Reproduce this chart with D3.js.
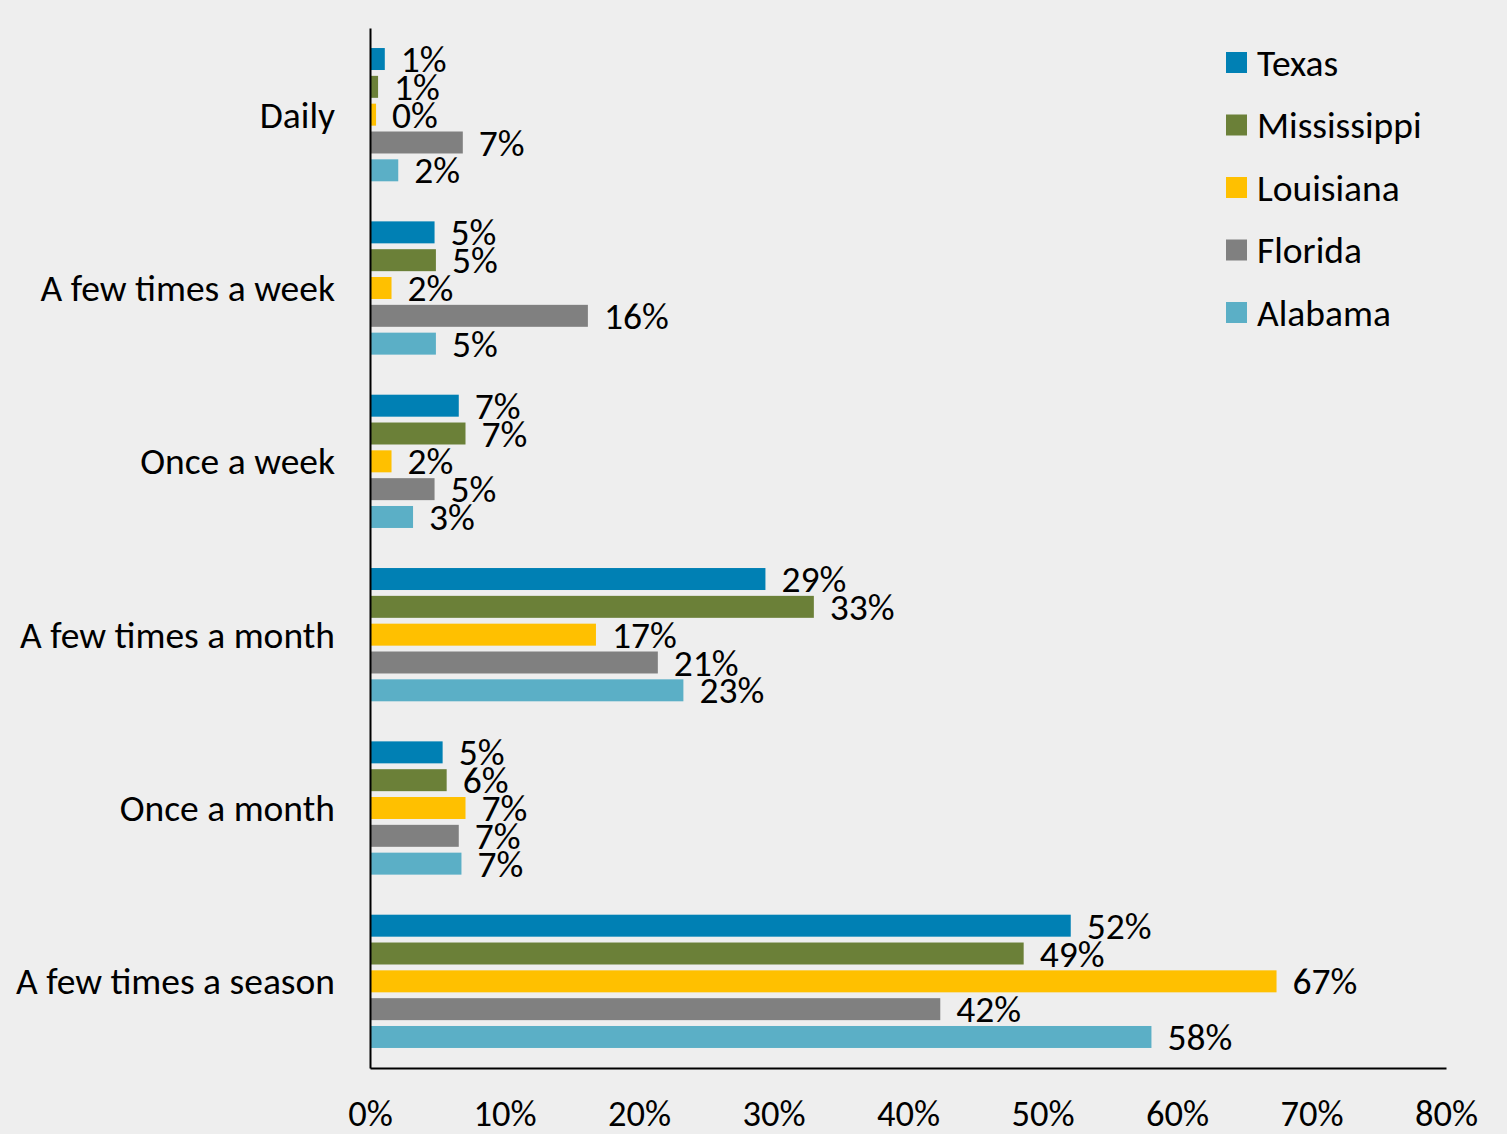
<!DOCTYPE html>
<html><head><meta charset="utf-8">
<script src="https://cdn.jsdelivr.net/npm/d3@7"></script>
<style>
html,body{margin:0;padding:0;background:#eeeeee;}
svg{display:block;}
text{font-family:Carlito,Calibri,Lato,sans-serif;fill:#000;}
</style></head>
<body>
<svg id="c" width="1507" height="1134"></svg>
<script>
const categories = ["Daily","A few times a week","Once a week","A few times a month","Once a month","A few times a season"];
const seriesNames = ["Texas","Mississippi","Louisiana","Florida","Alabama"];
const colors = ["#0080b4","#6b8038","#ffc000","#808080","#5bafc6"];
// values (%) per series, in category order
const texas       = [1.1, 4.8, 6.6, 29.4, 5.4, 52.1];
const mississippi = [0.6, 4.9, 7.1, 33.0, 5.7, 48.6];
const louisiana   = [0.45,1.6, 1.6, 16.8, 7.1, 67.4];
const florida     = [6.9, 16.2,4.8, 21.4, 6.6, 42.4];
const alabama     = [2.1, 4.9, 3.2, 23.3, 6.8, 58.1];
const seriesValues = [texas, mississippi, louisiana, florida, alabama];
const xTicks = [0,10,20,30,40,50,60,70,80];

const FS = 37.5;
const svg = d3.select("#c");
const x = d3.scaleLinear().domain([0,80]).range([370,1446]);
const y = d3.scaleBand().domain(categories).range([28,1068]).padding(0);
const ys = d3.scaleBand().domain(seriesNames).range([0,y.bandwidth()]).paddingInner(0.21).paddingOuter(0.72);

const data = [];
categories.forEach((c,ci)=>seriesNames.forEach((s,si)=>data.push({c,s,si,v:seriesValues[si][ci]})));

const g = svg.append("g");
g.selectAll("rect.bar").data(data).join("rect")
  .attr("class","bar")
  .attr("x",x(0))
  .attr("y",d=>y(d.c)+ys(d.s))
  .attr("width",d=>x(d.v)-x(0))
  .attr("height",ys.bandwidth())
  .attr("fill",d=>colors[d.si]);

g.selectAll("text.lbl").data(data).join("text")
  .attr("class","lbl")
  .attr("x",d=>x(d.v)+16)
  .attr("y",d=>y(d.c)+ys(d.s)+ys.bandwidth()/2)
  .attr("dy","0.35em")
  .attr("font-size",FS)
  .text(d=>Math.round(d.v)+"%");

// category labels
svg.selectAll("text.cat").data(categories).join("text")
  .attr("class","cat")
  .attr("x",335)
  .attr("y",d=>y(d)+y.bandwidth()/2)
  .attr("dy","0.35em")
  .attr("text-anchor","end")
  .attr("font-size",FS)
  .text(d=>d);

// x axis
const xAxis = d3.axisBottom(x).tickValues(xTicks).tickSize(0).tickPadding(0).tickFormat(d=>d+"%");
const ax = svg.append("g").attr("transform","translate(0,1068)").call(xAxis);
ax.select(".domain").attr("stroke","#000").attr("stroke-width",2);
ax.selectAll(".tick text").attr("font-size",36.5).attr("y",58).attr("dy",0).attr("font-family","Carlito,Calibri,Lato,sans-serif").attr("fill","#000");

// y axis line
const yAxis = d3.axisLeft(y).tickSize(0).tickFormat("");
const ay = svg.append("g").attr("transform","translate(370,0)").call(yAxis);
ay.select(".domain").attr("stroke","#000").attr("stroke-width",2);

// legend
const lg = svg.append("g").selectAll("g").data(seriesNames).join("g")
  .attr("transform",(d,i)=>`translate(1226,${52+i*62.5})`);
lg.append("rect").attr("width",21).attr("height",21).attr("fill",(d,i)=>colors[i]);
lg.append("text").attr("x",31).attr("y",10.5).attr("dy","0.35em").attr("font-size",FS).text(d=>d);
</script>
</body></html>
